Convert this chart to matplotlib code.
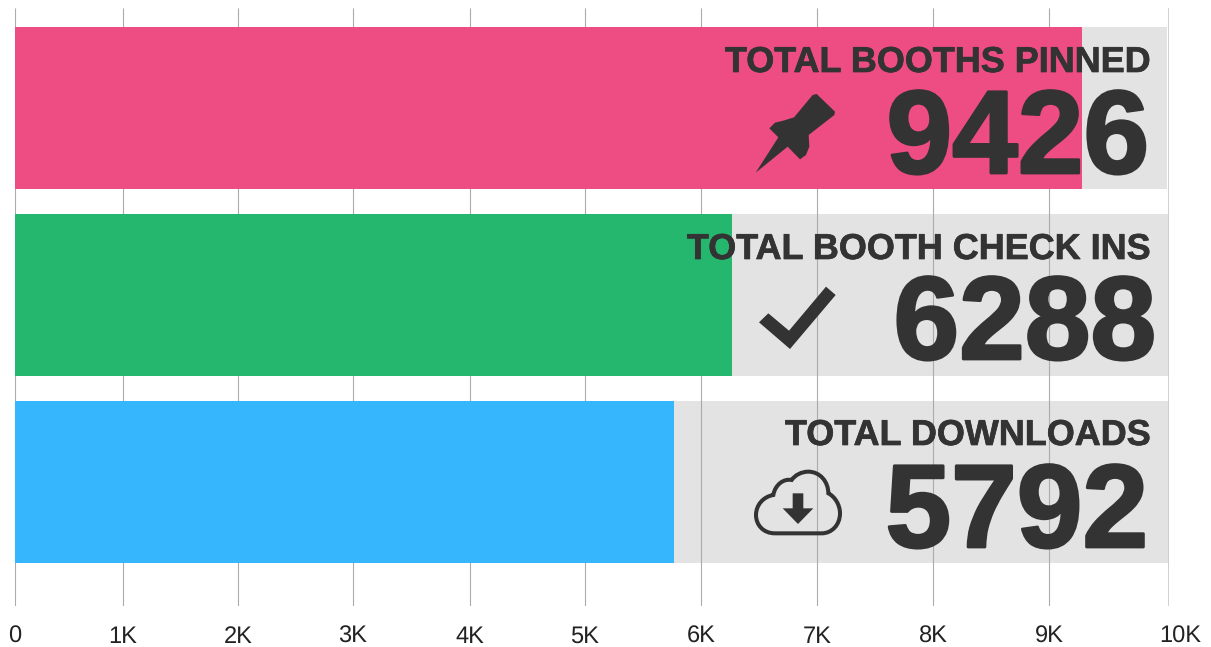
import matplotlib
matplotlib.use('Agg')
import matplotlib.pyplot as plt
import matplotlib.patheffects as pe
from matplotlib.patches import PathPatch, Polygon
from matplotlib.path import Path
from matplotlib.transforms import offset_copy

plt.rcParams['font.family'] = ['Liberation Sans', 'DejaVu Sans']
plt.rcParams['text.hinting'] = 'none'

# chart data
titles = ['TOTAL BOOTHS PINNED', 'TOTAL BOOTH CHECK INS', 'TOTAL DOWNLOADS']
totals = ['9426', '6288', '5792']
bar_lengths = [9246, 6213, 5711]
track_lengths = [9985, 10010, 10010]
bar_colors = ['#EE4D84', '#25B76E', '#35B6FD']
tick_values = [0, 936, 1932, 2929, 3943, 4939, 5945, 6950, 7955, 8964, 10000]
tick_labels = ['0', '1K', '2K', '3K', '4K', '5K', '6K', '7K', '8K', '9K', '10K']

TEXT = '#333333'
W, H = 1211, 647

fig = plt.figure(figsize=(W / 100, H / 100), dpi=100, facecolor='white')

# main axes, pixels 15..1169 across and 8..606 down
ax = fig.add_axes([15 / W, 1 - 606 / H, 1154 / W, 598 / H])
ax.set_xlim(0, 10000)
ax.set_ylim(2.659, -0.531)
for s in ax.spines.values():
    s.set_visible(False)
ax.patch.set_visible(False)
ax.set_yticks([])

rows = range(len(titles))
ax.barh(rows, track_lengths, height=0.864, color='#E3E3E3', zorder=1)
ax.vlines(tick_values[:-1], -0.531, 2.659, color='#ABABAB', lw=0.8, zorder=2)
ax.vlines(tick_values[-1], -0.531, 2.659, color='#CCCCCC', lw=1.3, zorder=2)
ax.barh(rows, bar_lengths, height=0.864, color=bar_colors, zorder=3)

ax.set_xticks(tick_values)
ax.set_xticklabels(tick_labels, fontsize=17, color='#222222')
ax.tick_params(axis='x', length=0, pad=14)
# last label sits right of its line in the original
last = ax.get_xticklabels()[-1]
last.set_transform(offset_copy(last.get_transform(), fig=fig, x=11, y=0, units='dots'))

# overlay in pixel coordinates for the big labels and icons
ov = fig.add_axes([0, 0, 1, 1], zorder=5)
ov.set_xlim(0, W)
ov.set_ylim(H, 0)
ov.axis('off')

title_pos = [(1151, 72), (1151, 259), (1151, 445)]
total_pos = [(1149, 173), (1156, 359), (1148, 547)]
for i in rows:
    ov.text(*title_pos[i], titles[i], ha='right', va='baseline', fontsize=25.9,
            fontweight='bold', color=TEXT,
            path_effects=[pe.withStroke(linewidth=0.5, foreground=TEXT)])
    ov.text(*total_pos[i], totals[i], ha='right', va='baseline', fontsize=85,
            fontweight='bold', color=TEXT,
            path_effects=[pe.withStroke(linewidth=2.0, foreground=TEXT)])


def zoomed(points, ox, oy):
    # icon outlines were read at 3x
    return [(ox + x / 3, oy + y / 3) for x, y in points]


# pin
pin = [(107, 518), (175, 412), (148, 385), (165, 368), (190, 362), (222, 352), (278, 285), (290, 282),
       (345, 335), (343, 345), (266, 405), (268, 440), (258, 465), (240, 478), (203, 440)]
ov.add_patch(Polygon(zoomed(pin, 720, 0), closed=True, fc=TEXT, ec='none'))

# check mark
check = [(117, 367), (145, 340), (207, 392), (318, 260), (347, 285), (210, 447)]
ov.add_patch(Polygon(zoomed(check, 720, 200), closed=True, fc=TEXT, ec='none'))

# cloud with arrow
cloud = [(165, 400),
         (130, 400), (108, 375), (108, 345),
         (108, 315), (130, 290), (160, 285),
         (165, 255), (190, 235), (215, 240),
         (225, 225), (245, 215), (265, 215),
         (300, 215), (325, 245), (325, 280),
         (345, 290), (360, 315), (360, 340),
         (360, 375), (335, 400), (305, 400),
         (165, 400)]
codes = [Path.MOVETO] + [Path.CURVE4] * 21 + [Path.LINETO]
ov.add_patch(PathPatch(Path(zoomed(cloud, 720, 400), codes), fc='none', ec=TEXT, lw=2.9))
arrow = [(218, 280), (250, 280), (250, 325), (280, 325), (234, 372), (188, 325), (218, 325)]
ov.add_patch(Polygon(zoomed(arrow, 720, 400), closed=True, fc=TEXT, ec='none'))

fig.savefig('out.png', dpi=100)
